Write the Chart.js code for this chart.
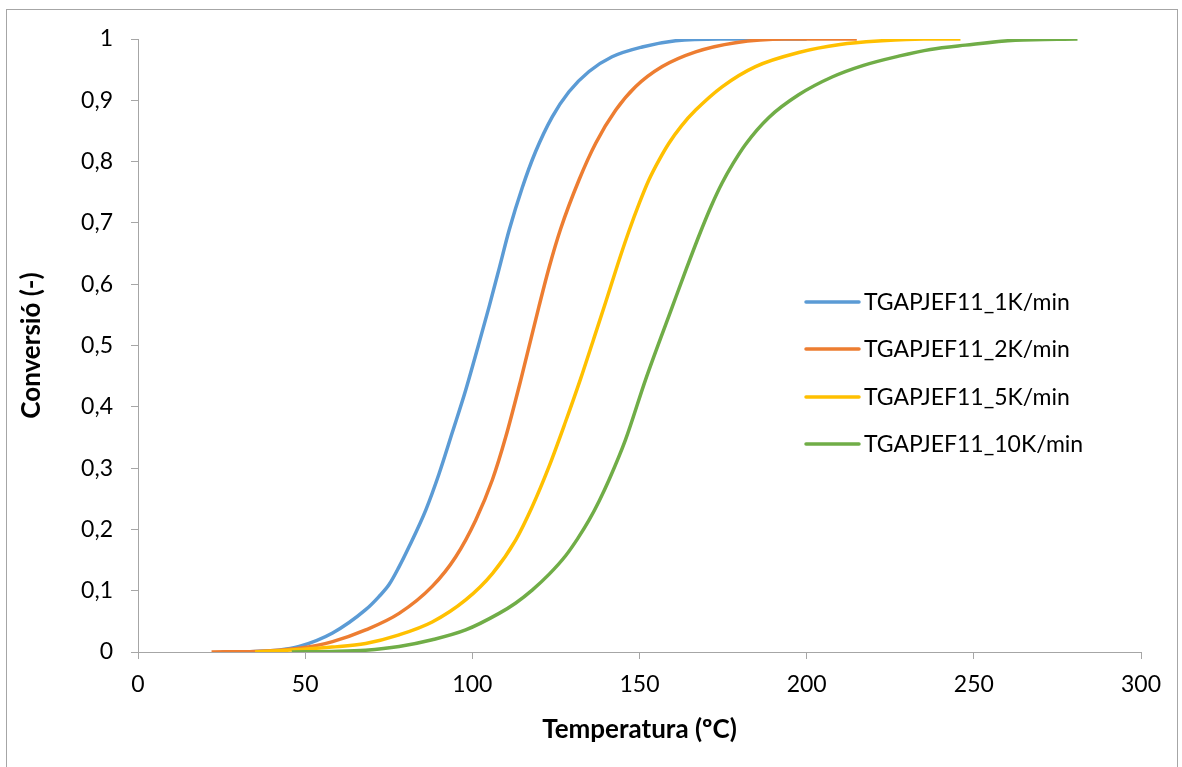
<!DOCTYPE html>
<html>
<head>
    <title>Conversió vs Temperatura</title>
    <script src="https://cdn.jsdelivr.net/npm/chart.js"></script>
    <style>
        body { margin: 0; background: #fff; }
    </style>
</head>
<body>
    <canvas id="convChart" width="1182" height="767"></canvas>

    <script>
        // series labels
        const seriesNames = ['TGAPJEF11_1K/min', 'TGAPJEF11_2K/min', 'TGAPJEF11_5K/min', 'TGAPJEF11_10K/min'];

        // 1K/min
        const temp1 = [25, 35, 42, 48.2, 58.2, 68.1, 72, 75.1, 78, 81.1, 86.1, 90, 94, 98, 101.8, 105, 108, 111, 114.9, 118.9, 123.9, 128.9, 134.9, 141.8, 150.8, 160.8, 173.8, 200];
        const conv1 = [0, 0.001, 0.003, 0.009, 0.031, 0.069, 0.09, 0.11, 0.138, 0.172, 0.232, 0.29, 0.358, 0.427, 0.5, 0.563, 0.625, 0.688, 0.757, 0.816, 0.873, 0.914, 0.947, 0.971, 0.987, 0.997, 1, 1];

        // 2K/min
        const temp2 = [22, 35, 42, 48.2, 58.2, 68.1, 78.1, 88, 95, 101, 106, 110, 114.5, 119.9, 123, 126.4, 131.9, 136.9, 142.9, 148.8, 156.8, 166.8, 178.7, 193.6, 215];
        const conv2 = [0, 0.001, 0.003, 0.006, 0.017, 0.036, 0.063, 0.107, 0.155, 0.215, 0.281, 0.351, 0.444, 0.563, 0.628, 0.69, 0.77, 0.83, 0.884, 0.922, 0.955, 0.979, 0.994, 1, 1];

        // 5K/min
        const temp5 = [35, 42, 48, 58, 68.1, 78.1, 88, 98, 106, 113, 117.9, 122.9, 127.9, 132.4, 136.2, 139.9, 143.4, 146.8, 150, 152.8, 155.8, 158.8, 162.5, 166.8, 174.7, 184.7, 197.6, 210, 222.5, 235, 246];
        const conv5 = [0, 0.002, 0.004, 0.008, 0.014, 0.028, 0.049, 0.085, 0.128, 0.183, 0.237, 0.302, 0.376, 0.446, 0.509, 0.571, 0.631, 0.686, 0.733, 0.77, 0.802, 0.83, 0.858, 0.884, 0.922, 0.955, 0.978, 0.991, 0.997, 1, 1];

        // 10K/min
        const temp10 = [46, 58, 68.1, 78.1, 88, 98, 108, 113, 117.9, 123, 127.9, 131.5, 134.9, 137.9, 140.9, 145.8, 151.8, 159.8, 164, 168.3, 171.5, 174.7, 178, 181.7, 188.7, 197.6, 207.6, 217, 227.5, 237, 247.5, 262.4, 281];
        const conv10 = [0, 0.001, 0.003, 0.009, 0.02, 0.036, 0.063, 0.08, 0.101, 0.127, 0.157, 0.185, 0.215, 0.246, 0.281, 0.346, 0.444, 0.563, 0.625, 0.686, 0.728, 0.765, 0.797, 0.828, 0.872, 0.909, 0.938, 0.957, 0.972, 0.983, 0.99, 0.998, 1];

        const colors = ['#5B9BD5', '#ED7D31', '#FFC000', '#70AD47'];
        const axisGray = '#a6a6a6';
        const fontName = 'Lato';

        function toPoints(xs, ys) {
            return xs.map((x, i) => ({ x: x, y: ys[i] }));
        }

        const allSeries = [[temp1, conv1], [temp2, conv2], [temp5, conv5], [temp10, conv10]];

        const datasets = allSeries.map((s, i) => ({
            label: seriesNames[i],
            data: toPoints(s[0], s[1]),
            borderColor: colors[i],
            backgroundColor: colors[i],
            borderWidth: 3.5,
            pointRadius: 0,
            cubicInterpolationMode: 'monotone',
            order: 4 - i
        }));

        // outer frame like the spreadsheet chart area
        const framePlugin = {
            id: 'frame',
            beforeDraw(chart) {
                const ctx = chart.ctx;
                ctx.save();
                ctx.fillStyle = '#fff';
                ctx.fillRect(0, 0, chart.width, chart.height);
                ctx.strokeStyle = axisGray;
                ctx.lineWidth = 1;
                ctx.strokeRect(6.5, 9.5, 1171, 800);
                ctx.restore();
            }
        };

        // legend drawn inside the plot, on the right
        const legendPlugin = {
            id: 'insideLegend',
            afterDraw(chart) {
                const ctx = chart.ctx;
                const x0 = 806, x1 = 859, tx = 864;
                const rows = [302, 349, 397, 444];
                ctx.save();
                ctx.font = '23px ' + fontName;
                ctx.textBaseline = 'middle';
                ctx.fillStyle = '#000';
                seriesNames.forEach((name, i) => {
                    ctx.strokeStyle = colors[i];
                    ctx.lineWidth = 3.5;
                    ctx.lineCap = 'round';
                    ctx.beginPath();
                    ctx.moveTo(x0, rows[i]);
                    ctx.lineTo(x1, rows[i]);
                    ctx.stroke();
                    ctx.fillText(name, tx, rows[i] + 1);
                });
                ctx.restore();
            }
        };

        const ctx = document.getElementById('convChart').getContext('2d');
        new Chart(ctx, {
            type: 'line',
            data: { datasets: datasets },
            plugins: [framePlugin, legendPlugin],
            options: {
                responsive: false,
                animation: false,
                layout: { padding: { left: 16, top: 39, right: 41, bottom: 22 } },
                plugins: {
                    legend: { display: false },
                    tooltip: { enabled: false }
                },
                scales: {
                    x: {
                        type: 'linear',
                        min: 0,
                        max: 300,
                        afterFit(scale) { scale.height = 93; },
                        ticks: { stepSize: 50, padding: 12, color: '#000', font: { family: fontName, size: 23 }, maxRotation: 0 },
                        grid: { drawOnChartArea: false, drawTicks: true, tickLength: 7, color: axisGray },
                        border: { color: axisGray, width: 1 },
                        title: { display: true, text: 'Temperatura (ºC)', color: '#000', padding: 0, font: { family: fontName, size: 26, weight: 'bold' } }
                    },
                    y: {
                        min: 0,
                        max: 1,
                        afterFit(scale) { scale.width = 122; },
                        ticks: {
                            stepSize: 0.1,
                            padding: 18,
                            color: '#000',
                            font: { family: fontName, size: 23 },
                            callback: v => (Math.round(v * 10) / 10).toString().replace('.', ',')
                        },
                        grid: { drawOnChartArea: false, drawTicks: true, tickLength: 7, color: axisGray },
                        border: { color: axisGray, width: 1 },
                        title: { display: true, text: 'Conversió (-)', color: '#000', padding: 0, font: { family: fontName, size: 26, weight: 'bold' } }
                    }
                }
            }
        });
    </script>
</body>
</html>
